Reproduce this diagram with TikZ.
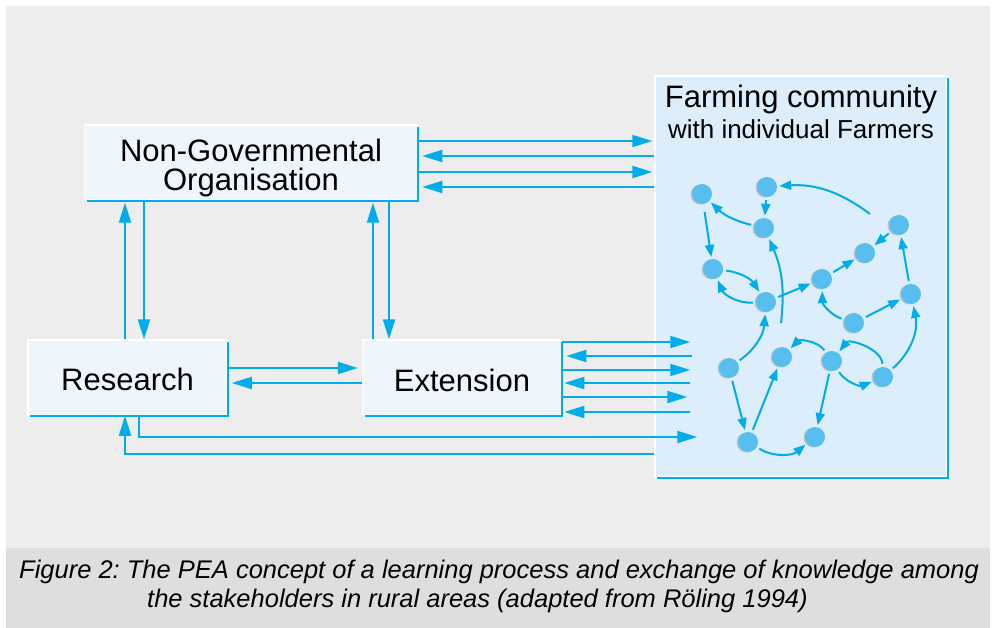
\documentclass[tikz,border=0pt]{standalone}
\usepackage{fontspec}
\setmainfont{Liberation Sans}
\usepackage{xcolor}
\usetikzlibrary{positioning, arrows.meta, shadows}
\frenchspacing
\definecolor{flowblue}{RGB}{0,172,236}
\definecolor{farmerblue}{RGB}{88,190,237}
\definecolor{boxfill}{RGB}{238,245,252}
\definecolor{farmfill}{RGB}{220,238,251}
\definecolor{paper}{RGB}{237,237,237}
\definecolor{captionfill}{RGB}{222,222,222}
\tikzset{>={Triangle[length=20pt, width=12pt]},
         x=1pt, y=-1pt,
         actor/.style={fill=boxfill, draw=white, line width=1.5pt, inner sep=0pt,
                       align=center, font=\fontsize{31}{29}\selectfont},
         rim/.style={draw=flowblue, line width=2pt},
         flow/.style={->, draw=flowblue, line width=2pt},
         farmer/.style={circle, fill=farmerblue, minimum size=20pt, inner sep=0pt,
                        drop shadow={shadow xshift=-1.5pt, shadow yshift=-0.5pt, fill=black!40, opacity=.5}},
         link/.style={-{Triangle[length=12pt, width=9pt]}, draw=flowblue, line width=2pt,
                      shorten <=3pt, shorten >=2pt},
         }

\begin{document}
\begin{tikzpicture}
    \fill[paper] (6,6) rectangle (990,548);
    \fill[captionfill] (6,548) rectangle (990,628);
    \useasboundingbox (0,0) rectangle (993,628);

    \node[actor, minimum width=333pt, minimum height=75pt] (ngo) at (251,162.5) {\rule{0pt}{34pt}Non-Governmental\\Organisation};
    \node[actor, minimum width=199pt, minimum height=75pt] (research) at (127.5,377.5) {\rule{0pt}{27pt}Research};
    \node[actor, minimum width=199pt, minimum height=75pt, right=134pt of research] (extension) {\rule{0pt}{28pt}Extension};
    \node[fill=farmfill, draw=white, line width=1.5pt, minimum width=292pt, minimum height=401pt] (farm) at (801,276.5) {};
    \node[below=10pt of farm.north, align=center, inner sep=0pt, font=\fontsize{31}{31}\selectfont] (farmtitle)
        {Farming community\\{\fontsize{26}{26}\selectfont with individual Farmers}};

    \draw[rim] ([yshift=-3pt]ngo.north east) |- ([xshift=3pt]ngo.south west);
    \draw[rim] ([yshift=-3pt]research.north east) |- ([xshift=3pt]research.south west);
    \draw[rim] ([yshift=-3pt]extension.north east) |- ([xshift=3pt]extension.south west);
    \draw[rim] ([yshift=-3pt]farm.north east) |- ([xshift=3pt]farm.south west);

    \path (ngo.east |- 0,141) edge[flow, shorten >=2pt] (farm.west |- 0,141)
          (farm.west |- 0,156) edge[flow, shorten >=4pt] (ngo.east |- 0,156)
          (ngo.east |- 0,172) edge[flow, shorten >=2pt] (farm.west |- 0,172)
          (farm.west |- 0,187) edge[flow, shorten >=4pt] (ngo.east |- 0,187);

    \path (research.north -| 125,0) edge[flow, shorten >=2pt] (ngo.south -| 125,0)
          (ngo.south -| 144,0) edge[flow] (research.north -| 144,0)
          (extension.north -| 373,0) edge[flow, shorten >=2pt] (ngo.south -| 373,0)
          (ngo.south -| 389,0) edge[flow] (extension.north -| 389,0)
          (research.east |- 0,368) edge[flow, shorten >=4pt] (extension.west |- 0,368)
          (extension.west |- 0,383) edge[flow, shorten >=4pt] (research.east |- 0,383);

    \draw[flow] (research.south -| 139,0) |- ([xshift=43pt]farm.west |- 0,437);
    \draw[flow] (farm.west |- 0,454) -| (research.south -| 125,0);

    \path (extension.east |- 0,342) edge[flow] ([xshift=36pt]farm.west |- 0,342)
          ([xshift=38pt]farm.west |- 0,356) edge[flow, shorten >=4pt] (extension.east |- 0,356)
          (extension.east |- 0,370) edge[flow] ([xshift=36pt]farm.west |- 0,370)
          ([xshift=36pt]farm.west |- 0,383) edge[flow, shorten >=2pt] (extension.east |- 0,383)
          (extension.east |- 0,397) edge[flow] ([xshift=33pt]farm.west |- 0,397)
          ([xshift=36pt]farm.west |- 0,412) edge[flow, shorten >=2pt] (extension.east |- 0,412);

    % individual farmers
    \node[farmer] (f1) at (702,194) {};
    \node[farmer] (f2) at (767,187) {};
    \node[farmer] (f3) at (764,228) {};
    \node[farmer] (f4) at (713,269) {};
    \node[farmer] (f5) at (766,302) {};
    \node[farmer] (f6) at (822,279) {};
    \node[farmer] (f7) at (865,253) {};
    \node[farmer] (f8) at (899,225) {};
    \node[farmer] (f9) at (911,294) {};
    \node[farmer] (f10) at (854,323) {};
    \node[farmer] (f11) at (729,368) {};
    \node[farmer] (f12) at (782,357) {};
    \node[farmer] (f13) at (832,361) {};
    \node[farmer] (f14) at (883,377) {};
    \node[farmer] (f15) at (748,442) {};
    \node[farmer] (f16) at (815,437) {};
    \coordinate (c1) at (781,323);
    \coordinate (c2) at (870,214);

    \path (f3) edge[link, bend left=15] (f1)
          (f2) edge[link] (f3)
          (f1) edge[link, shorten <=8pt] (f4)
          (f4) edge[link, bend left=25] (f5)
          (f5) edge[link, bend left=35] (f4)
          (c1) edge[link, bend right=15, shorten <=0pt] (f3)
          (f5) edge[link] (f6)
          (f6) edge[link] (f7)
          (f8) edge[link] (f7)
          (f9) edge[link] (f8)
          (c2) edge[link, bend right=20, shorten <=0pt] (f2)
          (f10) edge[link] (f9)
          (f10) edge[link, bend left=35] (f6)
          (f11) edge[link, bend right=25] (f5)
          (f11) edge[link] (f15)
          (f15) edge[link] (f12)
          (f15) edge[link, bend right=35] (f16)
          (f13) edge[link] (f16)
          (f13) edge[link, bend right=50] (f12)
          (f13) edge[link, bend right=40] (f14)
          (f14) edge[link, bend right=70] (f13)
          (f14) edge[link, bend right=30] (f9);

    \node[anchor=north west, align=left, inner sep=0pt, font=\itshape\fontsize{25.5}{29}\selectfont] (caption) at (19,560)
        {Figure 2: The PEA concept of a learning process and exchange of knowledge among\\
         \hspace*{128pt}the stakeholders in rural areas (adapted from Röling 1994)};
\end{tikzpicture}
\end{document}
